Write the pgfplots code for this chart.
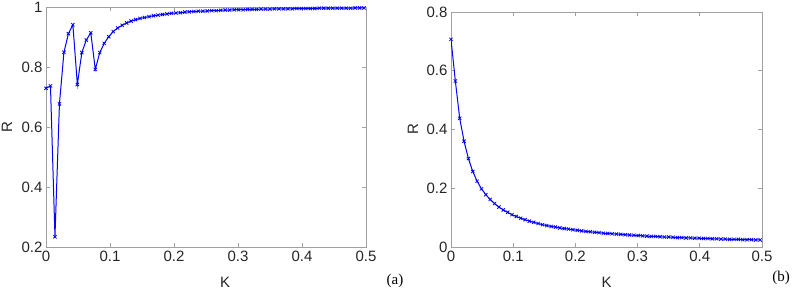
\documentclass[border=0pt]{standalone}
\usepackage{fontspec}
\setmainfont{Liberation Sans}
\newfontfamily\seriffont{Liberation Serif}
\usepackage{pgfplots}
\pgfplotsset{compat=1.18}

\definecolor{axgray}{HTML}{A0A0A0}
\definecolor{txtgray}{HTML}{262626}

\pgfplotsset{
  mlab/.style={
    scale only axis,
    anchor=south west,
    axis line style={axgray, line width=0.8pt},
    tick style={axgray, line width=0.7pt},
    tick align=inside,
    major tick length=4pt,
    tick pos=both,
    every tick label/.append style={txtgray, font=\fontsize{15}{17}\selectfont},
    /pgf/number format/assume math mode=true,
    /pgf/number format/fixed,
    /pgf/number format/precision=1,
    xmin=0, xmax=0.5,
    xtick={0,0.1,0.2,0.3,0.4,0.5},
    label style={txtgray, font=\fontsize{15}{17}\selectfont},
  },
  curve/.style={blue, line width=1pt, mark=x, mark size=2.3pt,
    mark options={line width=0.8pt}},
}

\begin{document}
\begin{tikzpicture}
\path[use as bounding box] (0pt,0pt) rectangle (796pt,295pt);

% (a)
\begin{axis}[mlab,
  at={(46pt,48pt)}, width=320pt, height=240pt,
  ymin=0.2, ymax=1,
  ytick={0.2,0.4,0.6,0.8,1},
  xlabel={K}, ylabel={R},
  xlabel style={at={(axis description cs:0.56,-0.146)}, anchor=center},
  ylabel style={at={(axis description cs:-0.122,0.5)}, anchor=center},
]
\addplot[curve] coordinates {
(0,0.729) (0.007,0.737) (0.014,0.234) (0.021,0.677) (0.028,0.849)
(0.035,0.911) (0.042,0.941) (0.049,0.742) (0.056,0.848) (0.063,0.890)
(0.070,0.914) (0.077,0.792) (0.084,0.848) (0.091,0.879) (0.098,0.901)
(0.105,0.918) (0.112,0.930) (0.119,0.939) (0.126,0.947) (0.133,0.953)
(0.140,0.958) (0.147,0.962) (0.154,0.965) (0.161,0.968) (0.168,0.971)
(0.175,0.973) (0.182,0.975) (0.189,0.977) (0.196,0.979) (0.203,0.980)
(0.210,0.981) (0.217,0.983) (0.224,0.984) (0.231,0.985) (0.238,0.986)
(0.245,0.986) (0.252,0.987) (0.259,0.988) (0.266,0.988) (0.273,0.989)
(0.280,0.990) (0.287,0.990) (0.294,0.991) (0.301,0.991) (0.308,0.991)
(0.315,0.992) (0.322,0.992) (0.329,0.992) (0.336,0.993) (0.343,0.993)
(0.350,0.993) (0.357,0.994) (0.364,0.994) (0.371,0.994) (0.378,0.994)
(0.385,0.994) (0.392,0.995) (0.399,0.995) (0.406,0.995) (0.413,0.995)
(0.420,0.995) (0.427,0.996) (0.434,0.996) (0.441,0.996) (0.448,0.996)
(0.455,0.996) (0.462,0.996) (0.469,0.996) (0.476,0.996) (0.483,0.997)
(0.490,0.997) (0.497,0.997)
};
\end{axis}

% (b)
\begin{axis}[mlab,
  at={(451pt,48pt)}, width=311pt, height=235pt,
  ymin=0, ymax=0.8,
  ytick={0,0.2,0.4,0.6,0.8},
  xlabel={K}, ylabel={R},
  xlabel style={at={(axis description cs:0.5,-0.149)}, anchor=center},
  ylabel style={at={(axis description cs:-0.122,0.5)}, anchor=center},
]
\addplot[curve] coordinates {
(0,0.707) (0.007,0.565) (0.014,0.438) (0.021,0.360) (0.028,0.301)
(0.035,0.257) (0.042,0.224) (0.049,0.198) (0.056,0.178) (0.063,0.162)
(0.070,0.148) (0.077,0.136) (0.084,0.126) (0.091,0.118) (0.098,0.110)
(0.105,0.104) (0.112,0.098) (0.119,0.093) (0.126,0.088) (0.133,0.084)
(0.140,0.080) (0.147,0.076) (0.154,0.073) (0.161,0.070) (0.168,0.068)
(0.175,0.065) (0.182,0.063) (0.189,0.061) (0.196,0.059) (0.203,0.057)
(0.210,0.055) (0.217,0.053) (0.224,0.052) (0.231,0.050) (0.238,0.049)
(0.245,0.047) (0.252,0.046) (0.259,0.045) (0.266,0.044) (0.273,0.043)
(0.280,0.042) (0.287,0.041) (0.294,0.040) (0.301,0.039) (0.308,0.038)
(0.315,0.037) (0.322,0.036) (0.329,0.036) (0.336,0.035) (0.343,0.034)
(0.350,0.034) (0.357,0.033) (0.364,0.032) (0.371,0.032) (0.378,0.031)
(0.385,0.031) (0.392,0.030) (0.399,0.030) (0.406,0.029) (0.413,0.029)
(0.420,0.028) (0.427,0.028) (0.434,0.027) (0.441,0.027) (0.448,0.026)
(0.455,0.026) (0.462,0.026) (0.469,0.025) (0.476,0.025) (0.483,0.025)
(0.490,0.024) (0.497,0.024)
};
\end{axis}

\node[font=\seriffont\fontsize{15}{17}\selectfont, text=black] at (395pt,14pt) {(a)};
\node[font=\seriffont\fontsize{15}{17}\selectfont, text=black] at (781pt,17pt) {(b)};
\end{tikzpicture}
\end{document}
